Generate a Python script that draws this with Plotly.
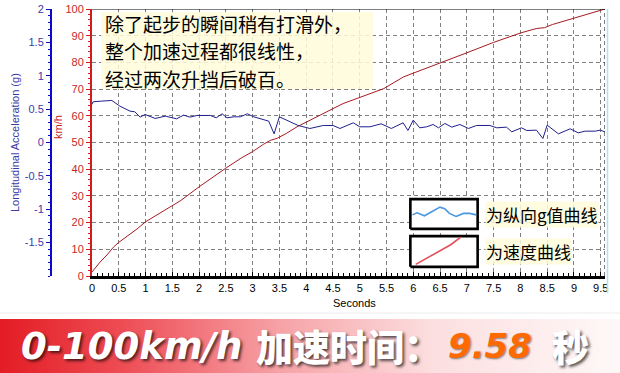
import plotly.graph_objects as go

W, H = 620, 373


def fx(p):
    return p / W


def fy(p):
    return 1 - p / H


# ---------------- data ----------------
time_speed = [0, 0.15, 0.28, 0.4, 0.5, 0.66, 0.84, 1.0, 1.22, 1.5, 1.66, 2.0, 2.25, 2.5,
              2.78, 3.0, 3.2, 3.33, 3.46, 3.63, 3.83, 3.94, 4.32, 4.69, 4.95, 5.19, 5.45,
              5.82, 6.44, 7.0, 7.5, 8.0, 8.3, 8.45, 8.6, 9.0, 9.58]
speed_kmh = [1.5, 5.2, 7.9, 10.8, 12.6, 14.8, 17.6, 20.3, 23.0, 26.6, 28.3, 33.4, 37.0, 40.4,
             44.1, 46.6, 49.3, 50.8, 51.6, 53.4, 55.9, 57.0, 60.9, 64.6, 66.5, 68.4, 70.2,
             74.6, 79.2, 83.6, 87.5, 91.0, 92.7, 93.0, 94.2, 96.6, 100]

time_g = [0.0, 0.02, 0.18, 0.37, 0.52, 0.71, 0.80, 0.90, 0.99, 1.18, 1.37, 1.58, 1.71, 1.83,
          1.96, 2.21, 2.32, 2.43, 2.52, 2.65, 2.77, 2.90, 3.02, 3.15, 3.30, 3.40, 3.50, 3.70,
          3.85, 4.07, 4.32, 4.50, 4.63, 4.88, 5.00, 5.19, 5.40, 5.59, 5.81, 5.90, 6.00, 6.12,
          6.25, 6.37, 6.47, 6.59, 6.72, 6.87, 7.03, 7.18, 7.43, 7.56, 7.74, 7.84, 8.02, 8.12,
          8.30, 8.42, 8.50, 8.71, 8.93, 9.08, 9.21, 9.40, 9.49, 9.58]
accel_g = [0.57, 0.61, 0.62, 0.63, 0.545, 0.47, 0.46, 0.38, 0.42, 0.36, 0.395, 0.355, 0.41,
           0.38, 0.405, 0.405, 0.37, 0.43, 0.37, 0.385, 0.385, 0.43, 0.385, 0.36, 0.32, 0.13,
           0.385, 0.31, 0.255, 0.21, 0.255, 0.255, 0.21, 0.295, 0.235, 0.235, 0.28, 0.21,
           0.295, 0.18, 0.335, 0.22, 0.235, 0.27, 0.22, 0.285, 0.23, 0.27, 0.21, 0.255, 0.255,
           0.22, 0.23, 0.16, 0.22, 0.18, 0.185, 0.06, 0.26, 0.13, 0.205, 0.145, 0.17, 0.17,
           0.185, 0.16]

g_tickvals = [-1.5, -1, -0.5, 0, 0.5, 1, 1.5, 2]
g_ticktext = ["-1.5", "-1", "-0.5", "0", "0.5", "1", "1.5", "2"]

note_lines = ["除了起步的瞬间稍有打滑外，", "整个加速过程都很线性，", "经过两次升挡后破百。"]
legend_labels = ["为纵向g值曲线", "为速度曲线"]

# legend icon sketches (box-relative 0..1)
icon_wave_x = [0.03, 0.10, 0.21, 0.33, 0.44, 0.51, 0.58, 0.68, 0.79, 0.88, 0.98]
icon_wave_y = [0.47, 0.54, 0.44, 0.60, 0.73, 0.68, 0.52, 0.42, 0.52, 0.52, 0.47]
icon_ramp_x = [0.08, 0.22, 0.35, 0.48, 0.60, 0.75]
icon_ramp_y = [0.08, 0.25, 0.42, 0.58, 0.72, 0.97]

banner_main = "0-100km/h"
banner_cn = "加速时间："
banner_value = "9.58"
banner_unit = "秒"

TICKFONT = "Liberation Sans, Arial, sans-serif"
CJK = "Noto Sans CJK SC, sans-serif"
GRID = "#808080"
RED_AX = "#d01c1c"
BLUE_AX = "#0a0ac8"
GLOW = "rgba(255,251,218,0.85)"

fig = go.Figure()

# main data
fig.add_trace(go.Scatter(x=time_g, y=accel_g, yaxis="y2", mode="lines",
                         line=dict(color="#1f1f8c", width=1), showlegend=False,
                         hoverinfo="skip"))
fig.add_trace(go.Scatter(x=time_speed, y=speed_kmh, mode="lines",
                         line=dict(color="#a51a22", width=1), showlegend=False,
                         hoverinfo="skip"))

# legend boxes
frame_x = [0, 1, 1, 0, 0]
frame_y = [0, 0, 1, 1, 0]
for ax_id, ix, iy, col in [("3", icon_wave_x, icon_wave_y, "#4a98e0"),
                           ("4", icon_ramp_x, icon_ramp_y, "#e2505a")]:
    fig.add_trace(go.Scatter(x=frame_x, y=frame_y, xaxis="x" + ax_id, yaxis="y" + ax_id,
                             mode="lines", fill="toself", fillcolor="white",
                             line=dict(color="black", width=2.6), showlegend=False,
                             hoverinfo="skip"))
    fig.add_trace(go.Scatter(x=ix, y=iy, xaxis="x" + ax_id, yaxis="y" + ax_id,
                             mode="lines", line=dict(color=col, width=1.6),
                             showlegend=False, hoverinfo="skip"))

# banner gradient
fig.add_trace(go.Scatter(x=frame_x, y=frame_y, xaxis="x5", yaxis="y5", mode="lines",
                         fill="toself", line=dict(width=0),
                         fillgradient=dict(type="horizontal",
                                           colorscale=[[0, "#e31c24"], [0.2, "#ee4d55"],
                                                       [0.45, "#f6a2a6"], [0.7, "#fcdfe0"],
                                                       [1, "#fff8f8"]]),
                         showlegend=False, hoverinfo="skip"))

hidden = dict(visible=False, fixedrange=True)

fig.update_layout(
    width=W, height=H,
    margin=dict(l=0, r=0, t=0, b=0),
    paper_bgcolor="white", plot_bgcolor="rgba(0,0,0,0)",
    font=dict(family=TICKFONT, size=11, color="black"),
    xaxis=dict(domain=[fx(92), fx(605)], range=[0, 9.58], tick0=0, dtick=0.5,
               showgrid=True, gridcolor=GRID, griddash="4px,3px", gridwidth=1,
               showline=True, linecolor="black", linewidth=3, zeroline=False,
               ticks="inside", ticklen=4, tickcolor="black",
               minor=dict(ticks="inside", ticklen=3, dtick=0.1, tick0=0,
                          tickcolor="black", showgrid=False),
               tickfont=dict(size=11, color="black", family=TICKFONT),
               anchor="y", automargin=False, fixedrange=True),
    yaxis=dict(domain=[fy(276), fy(9)], range=[0, 100], tick0=0, dtick=10,
               showgrid=True, gridcolor=GRID, griddash="4px,3px", gridwidth=1,
               showline=True, linecolor=RED_AX, linewidth=2, zeroline=False,
               ticks="outside", ticklen=4, tickcolor=RED_AX,
               minor=dict(ticks="outside", ticklen=2, dtick=2, tick0=0,
                          tickcolor=RED_AX, showgrid=False),
               tickfont=dict(size=11, color="#c82828", family=TICKFONT),
               anchor="x", automargin=False, fixedrange=True),
    yaxis2=dict(overlaying="y", anchor="free", position=fx(51), side="left",
                range=[-2, 2], tickmode="array", tickvals=g_tickvals, ticktext=g_ticktext,
                showgrid=False, zeroline=False, showline=True, linecolor=BLUE_AX,
                linewidth=2, ticks="outside", ticklen=4, tickcolor=BLUE_AX,
                minor=dict(ticks="outside", ticklen=2, tickmode="linear", dtick=0.1,
                           tick0=0, tickcolor=BLUE_AX, showgrid=False),
                tickfont=dict(size=11, color="#3a3aa6", family=TICKFONT),
                automargin=False, fixedrange=True),
    xaxis3=dict(domain=[fx(408), fx(480)], range=[-0.035, 1.035], anchor="y3", **hidden),
    yaxis3=dict(domain=[fy(231), fy(197)], range=[-0.07, 1.07], anchor="x3", **hidden),
    xaxis4=dict(domain=[fx(408), fx(480)], range=[-0.035, 1.035], anchor="y4", **hidden),
    yaxis4=dict(domain=[fy(269), fy(234)], range=[-0.07, 1.07], anchor="x4", **hidden),
    xaxis5=dict(domain=[0, 1], range=[0, 1], anchor="y5", **hidden),
    yaxis5=dict(domain=[0, fy(319)], range=[0, 1], anchor="x5", **hidden),
)

# frame lines
fig.add_shape(type="line", xref="x", yref="y", x0=0, x1=9.58, y0=100, y1=100,
              line=dict(color="black", width=1))
fig.add_shape(type="line", xref="x", yref="y", x0=9.58, x1=9.58, y0=0, y1=100,
              line=dict(color="black", width=1, dash="4px,3px"))
fig.add_shape(type="line", xref="paper", yref="paper", x0=fx(607.5), x1=fx(607.5),
              y0=fy(293), y1=fy(9), line=dict(color="#a9e6ef", width=1.5))
fig.add_shape(type="line", xref="paper", yref="paper", x0=0, x1=1,
              y0=fy(313), y1=fy(313), line=dict(color="#ececec", width=1))
# soft highlight behind the note text
fig.add_shape(type="rect", xref="paper", yref="paper", x0=fx(101), x1=fx(373),
              y0=fy(89), y1=fy(12), line=dict(width=0), fillcolor=GLOW, layer="above")

ann = []
# axis titles
ann.append(dict(text="Longitudinal Acceleration (g)", x=fx(15), y=fy(143), textangle=-90,
                font=dict(size=11, color="#3a3aa6", family=TICKFONT)))
ann.append(dict(text="km/h", x=fx(58), y=fy(127), textangle=-90,
                font=dict(size=11, color="#c82828", family=TICKFONT)))
ann.append(dict(text="Seconds", x=fx(354), y=fy(303),
                font=dict(size=11, color="black", family=TICKFONT)))

# note lines (spaced so their text boxes do not overlap)
NOTE_SIZE = 19
NOTE_STEP = 27.8
for i, line in enumerate(note_lines):
    ann.append(dict(text=line, x=fx(103), y=fy(51 + NOTE_STEP * (i - 1)), xanchor="left",
                    font=dict(size=NOTE_SIZE, color="black", family=CJK)))

# legend labels
for i, lab in enumerate(legend_labels):
    ann.append(dict(text=lab, x=fx(485), y=fy(214 + 37 * i), xanchor="left",
                    bgcolor=GLOW, borderpad=0,
                    font=dict(size=17, color="black", family=CJK)))

shadow = "2px 2px 3px rgba(0,0,0,0.65)"
ann.append(dict(text=banner_main, x=fx(19), y=fy(346), xanchor="left",
                font=dict(size=37, color="white", family="DejaVu Sans", weight=700,
                          style="italic", shadow=shadow)))
ann.append(dict(text=banner_cn, x=fx(254), y=fy(346), xanchor="left",
                font=dict(size=37, color="white", family=CJK, weight=900, shadow=shadow)))
ann.append(dict(text=banner_value, x=fx(446), y=fy(346), xanchor="left",
                font=dict(size=34, color="#ff6a00", family="DejaVu Sans", weight=700,
                          style="italic", shadow="1px 1px 2px rgba(0,0,0,0.5)")))
ann.append(dict(text=banner_unit, x=fx(550), y=fy(346), xanchor="left",
                font=dict(size=37, color="white", family=CJK, weight=900, shadow=shadow)))

for a in ann:
    a.setdefault("xref", "paper")
    a.setdefault("yref", "paper")
    a.setdefault("showarrow", False)
    a.setdefault("yanchor", "middle")
    a.setdefault("xanchor", "center")

fig.update_layout(annotations=ann)

fig.write_html("out.html")
